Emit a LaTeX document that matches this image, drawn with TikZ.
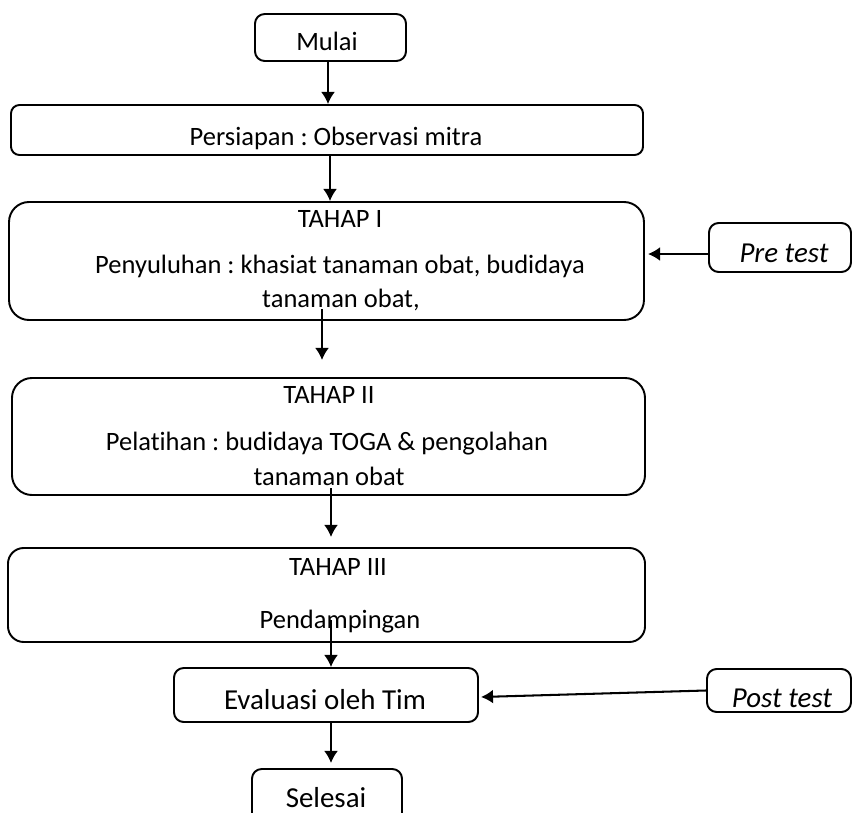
\documentclass[tikz,border=0pt]{standalone}
\usepackage{fontspec}
\setmainfont[RawFeature={-liga}]{Carlito}
\frenchspacing
\usetikzlibrary{arrows.meta}
\tikzset{
  box/.style={draw,line width=0.8pt,rounded corners=#1,inner sep=0pt},
  box/.default=4pt,
  txt/.style={inner sep=0pt,anchor=base,font=\fontsize{11}{13}\selectfont},
  bigtxt/.style={inner sep=0pt,anchor=base,font=\fontsize{12}{14}\selectfont},
  arr/.style={line width=0.85pt,-{Latex[length=5pt,width=5.8pt]}}
}
\begin{document}
\begin{tikzpicture}[x=0.415pt,y=-0.415pt]
\useasboundingbox (0,0) rectangle (853,813);
\clip (0,0) rectangle (853,813);
% boxes
\node[box=4pt,minimum width=62.67pt,minimum height=19.5pt] (mulai) at (330.5,37.5) {};
\node[box=3.5pt,minimum width=262.28pt,minimum height=20.75pt] (prep) at (327,130) {};
\node[box=8.3pt,minimum width=263.5pt,minimum height=48.97pt] (t1) at (326.5,261) {};
\node[box=8.3pt,minimum width=262.7pt,minimum height=48.56pt] (t2) at (328.5,436.5) {};
\node[box=6.5pt,minimum width=264.36pt,minimum height=39pt] (t3) at (326.5,595) {};
\node[box=4pt,minimum width=126.16pt,minimum height=22.41pt] (evalbox) at (326,695) {};
\node[box=4pt,minimum width=62.25pt,minimum height=25.73pt] (done) at (327,800) {};
\node[box=4pt,minimum width=58.93pt,minimum height=20.34pt] (pre) at (780,247.5) {};
\node[box=4pt,minimum width=59.76pt,minimum height=17.85pt] (post) at (779,690.5) {};
% texts
\node[txt] (mulaiT) at (327,50) {Mulai};
\node[txt] (prepT) at (336,145) {Persiapan : Observasi mitra};
\node[txt] (t1a) at (340,227) {TAHAP I};
\node[txt] (t1b) at (340,273) {Penyuluhan : khasiat tanaman obat, budidaya};
\node[txt] (t1c) at (341,307) {tanaman obat,};
\node[txt] (t2a) at (329,403) {TAHAP II};
\node[txt] (t2b) at (327,450) {Pelatihan : budidaya TOGA \& pengolahan};
\node[txt] (t2c) at (329,485) {tanaman obat};
\node[txt] (t3a) at (338,575) {TAHAP III};
\node[txt] (t3b) at (340,628) {Pendampingan};
\node[bigtxt] (evalT) at (325,709) {Evaluasi oleh Tim};
\node[bigtxt] (doneT) at (326,807) {Selesai};
\node[bigtxt] (preT) at (784,262) {\itshape Pre test};
\node[bigtxt] (postT) at (782,707) {\itshape Post test};
% connector ends
\coordinate (x1) at (328,0);
\coordinate (x2) at (330,0);
\coordinate (s3) at (322,309);
\coordinate (e3) at (322,360);
\coordinate (s4) at (331,488);
\coordinate (e4) at (331,537);
\coordinate (s5) at (331,620);
\coordinate (x6) at (331,0);
\coordinate (e6) at (331,763);
\coordinate (y7) at (0,254);
\coordinate (e7) at (648,254);
\coordinate (e8) at (481,697);
% connectors
\draw[arr] (mulai.south -| x1) -- (prep.north -| x1);
\draw[arr] (prep.south -| x2) -- (t1.north -| x2);
\draw[arr] (s3) -- (e3);
\draw[arr] (s4) -- (e4);
\draw[arr] (s5) -- (evalbox.north -| s5);
\draw[arr] (evalbox.south -| x6) -- (e6);
\draw[arr] (pre.west |- y7) -- (e7);
\draw[arr] (post.west) -- (e8);
\end{tikzpicture}
\end{document}
